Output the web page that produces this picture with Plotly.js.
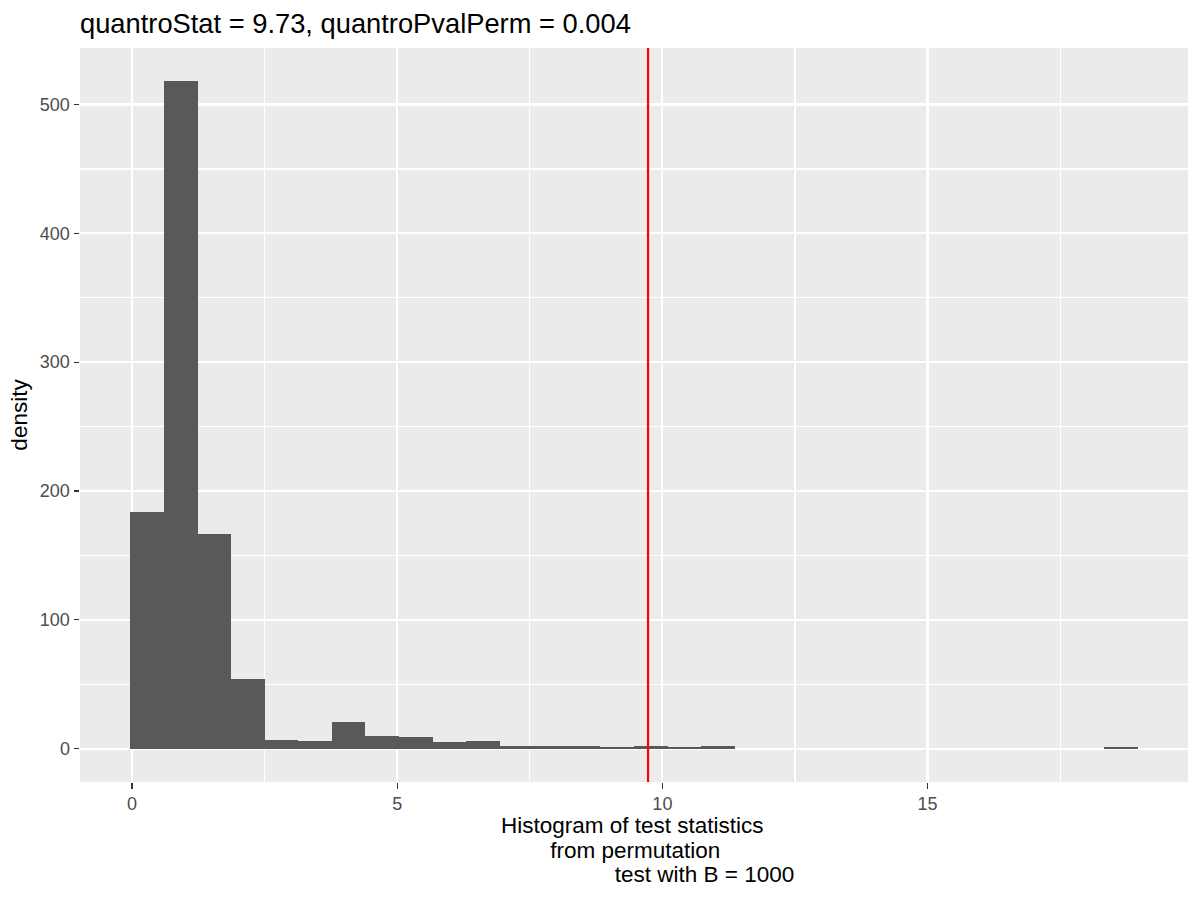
<!DOCTYPE html>
<html>
<head>
<meta charset="utf-8">
<script src="https://cdn.plot.ly/plotly-3.0.1.min.js"></script>
<style>html,body{margin:0;padding:0;background:#fff;}#chart{width:1200px;height:900px;}</style>
</head>
<body>
<div id="chart"></div>
<script>
// Histogram of permutation test statistics (counts per bin, B = 1000)
const binStart = -0.03;
const binWidth = 0.633;
const binCounts = [184, 518, 167, 54, 7, 6, 21, 10, 9, 5,
                   6, 2, 2, 2, 1, 2, 1, 2, 0, 0,
                   0, 0, 0, 0, 0, 0, 0, 0, 0, 1];
const quantroStat = 9.73;
const quantroPvalPerm = 0.004;
const B = 1000;
const xTickVals = [0, 5, 10, 15];
const xTickText = ["0", "5", "10", "15"];
const yTickVals = [0, 100, 200, 300, 400, 500];
const yTickText = ["0", "100", "200", "300", "400", "500"];
const xTitleLines = ["Histogram of test statistics", " from permutation",
                     "                       test with B = " + B];

const binCenters = binCounts.map((c, i) => binStart + (i + 0.5) * binWidth);

const font = "Liberation Sans, Arial, Helvetica, sans-serif";

const trace = {
  type: "bar",
  x: binCenters,
  y: binCounts,
  width: binCounts.map(() => binWidth),
  marker: {color: "#595959", line: {width: 0}},
  hoverinfo: "x+y"
};

// x-axis title lines (ggplot-like tighter line spacing)
const lineShifts = [-29.3, -53.5, -78.3];
const annotations = xTitleLines.map((t, i) => ({
  text: t.replace(/ /g, "\u00A0"),
  xref: "paper", yref: "paper", x: 0.5, y: 0,
  xanchor: "center", yanchor: "top",
  xshift: -2, yshift: lineShifts[i],
  showarrow: false,
  font: {family: font, size: 22.5, color: "#000000"}
}));

const layout = {
  width: 1200, height: 900,
  margin: {l: 80, r: 12, t: 48.3, b: 118, pad: 0},
  paper_bgcolor: "#FFFFFF",
  plot_bgcolor: "#EBEBEB",
  showlegend: false,
  bargap: 0,
  title: {
    text: "quantroStat = " + quantroStat + ", quantroPvalPerm = " + quantroPvalPerm,
    font: {family: font, size: 27.3, color: "#000000"},
    xref: "paper", x: 0, xanchor: "left",
    yref: "container", y: 1 - 23 / 900, yanchor: "middle"
  },
  xaxis: {
    range: [-0.98, 19.91],
    tickvals: xTickVals, ticktext: xTickText,
    ticks: "outside", ticklen: 5.5, tickwidth: 1.1, tickcolor: "#333333",
    tickfont: {family: font, size: 18, color: "#4D4D4D"},
    showgrid: true, gridcolor: "#FFFFFF", gridwidth: 2.2,
    minor: {tick0: 2.5, dtick: 5, showgrid: true, gridcolor: "#FFFFFF", gridwidth: 1.1, ticks: ""},
    zeroline: false, showline: false
  },
  yaxis: {
    range: [-25.9, 543.9],
    tickvals: yTickVals, ticktext: yTickText,
    ticks: "outside", ticklen: 5.5, tickwidth: 1.1, tickcolor: "#333333",
    tickfont: {family: font, size: 18, color: "#4D4D4D"},
    showgrid: true, gridcolor: "#FFFFFF", gridwidth: 2.2,
    minor: {tick0: 50, dtick: 100, showgrid: true, gridcolor: "#FFFFFF", gridwidth: 1.1, ticks: ""},
    zeroline: false, showline: false,
    title: {text: "density", font: {family: font, size: 22.5, color: "#000000"}, standoff: 5}
  },
  annotations: annotations,
  shapes: [{
    type: "line", xref: "x", yref: "paper",
    x0: quantroStat, x1: quantroStat, y0: 0, y1: 1,
    line: {color: "#FF0000", width: 2.2}
  }]
};

Plotly.newPlot("chart", [trace], layout, {displayModeBar: false, staticPlot: true});
</script>
</body>
</html>
